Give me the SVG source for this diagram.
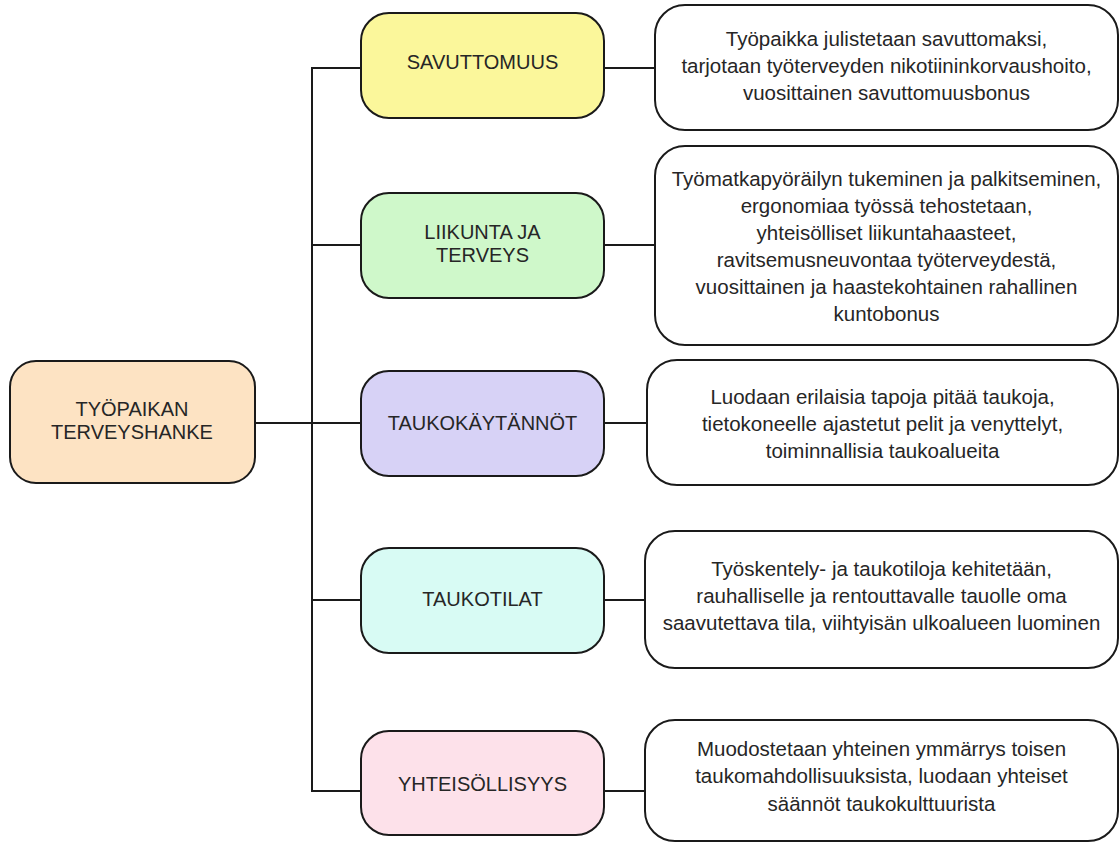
<svg xmlns="http://www.w3.org/2000/svg" width="1120" height="843" viewBox="0 0 1120 843">
<style>
.box{stroke:#1a1a1a;stroke-width:2}
.desc{fill:#ffffff}
.lbl{font-family:"Liberation Sans",Arial,sans-serif;font-size:20px;fill:#262626;text-anchor:middle}
.txt{font-family:"Liberation Sans",Arial,sans-serif;font-size:20.5px;fill:#262626;text-anchor:middle}
.con{stroke:#1a1a1a;stroke-width:2;fill:none}
</style>
<rect width="1120" height="843" fill="#ffffff"/>
<g id="connectors">
<line class="con" x1="312" y1="68" x2="312" y2="792"/>
<line class="con" x1="255" y1="423" x2="312" y2="423"/>
<line class="con" x1="311" y1="68" x2="361" y2="68"/>
<line class="con" x1="311" y1="245" x2="361" y2="245"/>
<line class="con" x1="311" y1="423" x2="361" y2="423"/>
<line class="con" x1="311" y1="600" x2="361" y2="600"/>
<line class="con" x1="311" y1="791" x2="361" y2="791"/>
<line class="con" x1="604" y1="68" x2="655" y2="68"/>
<line class="con" x1="604" y1="245" x2="655" y2="245"/>
<line class="con" x1="604" y1="423" x2="647" y2="423"/>
<line class="con" x1="604" y1="600" x2="645" y2="600"/>
<line class="con" x1="604" y1="791" x2="645" y2="791"/>
</g>
<g id="root">
<rect class="box" x="10" y="361" width="245" height="122" rx="26" fill="#fde3c3"/>
<text class="lbl" x="132" y="416">TYÖPAIKAN</text>
<text class="lbl" x="132" y="439">TERVEYSHANKE</text>
</g>
<g id="savuttomuus">
<rect class="box" x="361" y="13" width="243" height="105" rx="28" fill="#fbf79b"/>
<text class="lbl" x="482.5" y="69">SAVUTTOMUUS</text>
</g>
<g id="liikunta">
<rect class="box" x="361" y="193" width="243" height="105" rx="28" fill="#cff8ca"/>
<text class="lbl" x="482.5" y="239">LIIKUNTA JA</text>
<text class="lbl" x="482.5" y="262">TERVEYS</text>
</g>
<g id="taukokaytannot">
<rect class="box" x="361" y="371" width="243" height="105" rx="28" fill="#d7d2f6"/>
<text class="lbl" x="482.5" y="430">TAUKOKÄYTÄNNÖT</text>
</g>
<g id="taukotilat">
<rect class="box" x="361" y="548" width="243" height="105" rx="28" fill="#d8fbf4"/>
<text class="lbl" x="482.5" y="606">TAUKOTILAT</text>
</g>
<g id="yhteisollisyys">
<rect class="box" x="361" y="731" width="243" height="104" rx="28" fill="#fde1ea"/>
<text class="lbl" x="482.5" y="791">YHTEISÖLLISYYS</text>
</g>
<g id="desc-savuttomuus">
<rect class="box desc" x="655" y="5" width="463" height="125" rx="30"/>
<text class="txt" x="886.5" y="46">Työpaikka julistetaan savuttomaksi,</text>
<text class="txt" x="886.5" y="73">tarjotaan työterveyden nikotiininkorvaushoito,</text>
<text class="txt" x="886.5" y="100">vuosittainen savuttomuusbonus</text>
</g>
<g id="desc-liikunta">
<rect class="box desc" x="655" y="146" width="463" height="199" rx="30"/>
<text class="txt" x="886.5" y="186">Työmatkapyöräilyn tukeminen ja palkitseminen,</text>
<text class="txt" x="886.5" y="213">ergonomiaa työssä tehostetaan,</text>
<text class="txt" x="886.5" y="240">yhteisölliset liikuntahaasteet,</text>
<text class="txt" x="886.5" y="267">ravitsemusneuvontaa työterveydestä,</text>
<text class="txt" x="886.5" y="294">vuosittainen ja haastekohtainen rahallinen</text>
<text class="txt" x="886.5" y="321">kuntobonus</text>
</g>
<g id="desc-taukokaytannot">
<rect class="box desc" x="647" y="360" width="471" height="125" rx="30"/>
<text class="txt" x="882.5" y="404">Luodaan erilaisia tapoja pitää taukoja,</text>
<text class="txt" x="882.5" y="431">tietokoneelle ajastetut pelit ja venyttelyt,</text>
<text class="txt" x="882.5" y="458">toiminnallisia taukoalueita</text>
</g>
<g id="desc-taukotilat">
<rect class="box desc" x="645" y="531" width="473" height="137" rx="30"/>
<text class="txt" x="881.5" y="576">Työskentely- ja taukotiloja kehitetään,</text>
<text class="txt" x="881.5" y="603">rauhalliselle ja rentouttavalle tauolle oma</text>
<text class="txt" x="881.5" y="630">saavutettava tila, viihtyisän ulkoalueen luominen</text>
</g>
<g id="desc-yhteisollisyys">
<rect class="box desc" x="645" y="720" width="473" height="121" rx="30"/>
<text class="txt" x="881.5" y="756">Muodostetaan yhteinen ymmärrys toisen</text>
<text class="txt" x="881.5" y="783">taukomahdollisuuksista, luodaan yhteiset</text>
<text class="txt" x="881.5" y="811">säännöt taukokulttuurista</text>
</g>
</svg>
